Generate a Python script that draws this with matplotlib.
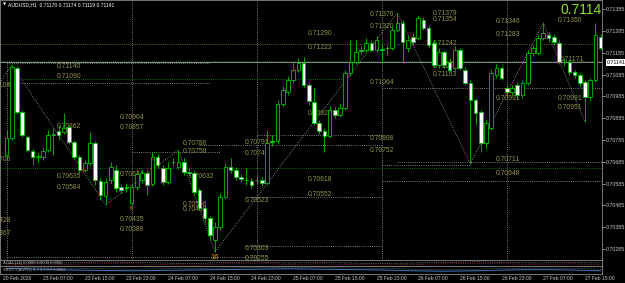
import matplotlib
matplotlib.use("Agg")
import matplotlib.pyplot as plt
import matplotlib.transforms as mtransforms
import numpy as np

plt.rcParams['font.family'] = ['Liberation Sans', 'DejaVu Sans']

# AUDUSD H1, bar 0 = 23 Feb 00:00
opens = [0.70717, 0.70794, 0.71115, 0.70913, 0.70799, 0.70735, 0.70707, 0.70707, 0.70739, 0.70808,
         0.70826, 0.70822, 0.70845, 0.70776, 0.70707, 0.70647, 0.70680, 0.70771, 0.70597, 0.70528,
         0.70601, 0.70647, 0.70569, 0.70569, 0.70496, 0.70569, 0.70601, 0.70634, 0.70583, 0.70707,
         0.70657, 0.70592, 0.70684, 0.70661, 0.70684, 0.70638, 0.70634, 0.70556, 0.70473, 0.70427,
         0.70326, 0.70386, 0.70524, 0.70661, 0.70647, 0.70615, 0.70601, 0.70597, 0.70601, 0.70601,
         0.70588, 0.70780, 0.70780, 0.70950, 0.71005, 0.71060, 0.71106, 0.71138, 0.71037, 0.70959,
         0.70863, 0.70826, 0.70803, 0.70922, 0.70900, 0.70932, 0.71092, 0.71143, 0.71198, 0.71198,
         0.71230, 0.71198, 0.71202, 0.71207, 0.71207, 0.71290, 0.71322, 0.71207, 0.71257, 0.71253,
         0.71335, 0.71299, 0.71230, 0.71129, 0.71189, 0.71143, 0.71115, 0.71198, 0.71106, 0.71046,
         0.70968, 0.70913, 0.70771, 0.70840, 0.71083, 0.71115, 0.71024, 0.71005, 0.71037, 0.70991,
         0.71046, 0.71184, 0.71184, 0.71253, 0.71267, 0.71257, 0.71230, 0.71143, 0.71143, 0.71097,
         0.71083, 0.71051, 0.70982, 0.71060, 0.71257]
highs = [0.70831, 0.71129, 0.71124, 0.70922, 0.70808, 0.70744, 0.70730, 0.70748, 0.70831, 0.70840,
         0.70854, 0.70909, 0.70854, 0.70785, 0.70717, 0.70693, 0.70822, 0.70780, 0.70611, 0.70611,
         0.70684, 0.70670, 0.70583, 0.70588, 0.70583, 0.70647, 0.70652, 0.70647, 0.70730, 0.70721,
         0.70670, 0.70684, 0.70703, 0.70739, 0.70703, 0.70657, 0.70647, 0.70565, 0.70482, 0.70436,
         0.70409, 0.70542, 0.70680, 0.70703, 0.70661, 0.70629, 0.70657, 0.70611, 0.70620, 0.70615,
         0.70831, 0.70808, 0.70968, 0.71033, 0.71079, 0.71143, 0.71161, 0.71166, 0.71046, 0.71024,
         0.70877, 0.70840, 0.70941, 0.70936, 0.70950, 0.71106, 0.71244, 0.71244, 0.71216, 0.71253,
         0.71244, 0.71262, 0.71221, 0.71221, 0.71303, 0.71368, 0.71335, 0.71262, 0.71276, 0.71358,
         0.71349, 0.71313, 0.71244, 0.71207, 0.71198, 0.71161, 0.71216, 0.71207, 0.71120, 0.71060,
         0.70978, 0.70922, 0.70877, 0.71106, 0.71134, 0.71124, 0.71037, 0.71037, 0.71051, 0.71060,
         0.71198, 0.71221, 0.71267, 0.71322, 0.71280, 0.71271, 0.71244, 0.71161, 0.71152, 0.71106,
         0.71092, 0.71060, 0.71069, 0.71322, 0.71271]
lows = [0.70693, 0.70785, 0.70904, 0.70799, 0.70730, 0.70670, 0.70684, 0.70693, 0.70730, 0.70717,
        0.70785, 0.70813, 0.70767, 0.70698, 0.70634, 0.70638, 0.70670, 0.70578, 0.70510, 0.70487,
        0.70588, 0.70547, 0.70542, 0.70547, 0.70487, 0.70556, 0.70588, 0.70533, 0.70574, 0.70657,
        0.70578, 0.70583, 0.70666, 0.70652, 0.70624, 0.70620, 0.70533, 0.70464, 0.70409, 0.70326,
        0.70271, 0.70372, 0.70514, 0.70634, 0.70601, 0.70592, 0.70578, 0.70565, 0.70583, 0.70574,
        0.70578, 0.70758, 0.70767, 0.70936, 0.70991, 0.71046, 0.71097, 0.71028, 0.70946, 0.70854,
        0.70813, 0.70730, 0.70794, 0.70886, 0.70890, 0.70922, 0.71079, 0.71134, 0.71179, 0.71189,
        0.71189, 0.71189, 0.71143, 0.71175, 0.71198, 0.71280, 0.71143, 0.71189, 0.71221, 0.71244,
        0.71290, 0.71207, 0.71120, 0.71115, 0.71115, 0.71097, 0.71102, 0.71106, 0.71037, 0.70675,
        0.70854, 0.70730, 0.70748, 0.70831, 0.71069, 0.71060, 0.70991, 0.70991, 0.70978, 0.70978,
        0.71037, 0.71170, 0.71175, 0.71244, 0.71235, 0.71221, 0.71134, 0.71124, 0.71083, 0.71069,
        0.71033, 0.70868, 0.70968, 0.71051, 0.71198]
closes = [0.70794, 0.71120, 0.70913, 0.70808, 0.70739, 0.70707, 0.70712, 0.70735, 0.70808, 0.70813,
          0.70808, 0.70840, 0.70776, 0.70707, 0.70647, 0.70680, 0.70771, 0.70601, 0.70533, 0.70592,
          0.70661, 0.70565, 0.70556, 0.70565, 0.70569, 0.70629, 0.70634, 0.70578, 0.70707, 0.70670,
          0.70592, 0.70657, 0.70682, 0.70684, 0.70638, 0.70634, 0.70547, 0.70473, 0.70427, 0.70349,
          0.70386, 0.70524, 0.70661, 0.70647, 0.70615, 0.70606, 0.70599, 0.70578, 0.70599, 0.70588,
          0.70771, 0.70776, 0.70950, 0.71014, 0.71060, 0.71106, 0.71138, 0.71037, 0.70964, 0.70863,
          0.70826, 0.70803, 0.70922, 0.70900, 0.70932, 0.71092, 0.71143, 0.71189, 0.71193, 0.71230,
          0.71198, 0.71244, 0.71198, 0.71205, 0.71290, 0.71322, 0.71235, 0.71244, 0.71235, 0.71345,
          0.71299, 0.71221, 0.71129, 0.71189, 0.71129, 0.71106, 0.71198, 0.71115, 0.71046, 0.70968,
          0.70909, 0.70771, 0.70863, 0.71092, 0.71115, 0.71069, 0.71005, 0.71024, 0.70991, 0.71046,
          0.71184, 0.71207, 0.71253, 0.71276, 0.71253, 0.71235, 0.71143, 0.71141, 0.71097, 0.71083,
          0.71046, 0.70982, 0.71060, 0.71267, 0.71207]

bid = 0.71141
header = "AUDUSD,H1  0.71170 0.71174 0.71119 0.71141"

# zigzag swing points (bar index); first point lies off the left edge
zz_bars = [-4, 1, 19, 33, 40, 75, 89, 103, 111]
zz_start = 0.70945

day_breaks = [0, 24, 48, 72, 96]
time_labels = ["20 Feb 2026", "23 Feb 07:00", "23 Feb 15:00", "23 Feb 23:00", "24 Feb 07:00",
               "24 Feb 15:00", "24 Feb 23:00", "25 Feb 07:00", "25 Feb 15:00", "25 Feb 23:00",
               "26 Feb 07:00", "26 Feb 15:00", "26 Feb 23:00", "27 Feb 07:00", "27 Feb 15:00"]
time_label_bars = [-0.7, 7, 15, 23, 31, 39, 47, 55, 63, 71, 79, 87, 95, 103, 111]

# horizontal levels: price, first bar, last bar
level_prices = [0.71140, 0.71064, 0.71046, 0.71024, 0.70808, 0.70760, 0.70730,
                0.70685, 0.70671, 0.70597, 0.70523, 0.70300, 0.70250]
level_from = [0, 3, 0, 72, 48, 37, 24, 75, 72, 72, 46, 46, 0]
level_to = [39, 65, 39, 115, 72, 72, 41, 115, 89, 115, 72, 72, 48]
level_green = [False, True, False, False, False, False, False,
               False, False, False, False, False, False]
pivot_line = 0.71223
green_lines = [0.71149, 0.70657]

# price labels: value, bar of left edge
label_prices = [0.71140, 0.71090, 0.70862, 0.70635, 0.70584,
                0.70904, 0.70857, 0.70641, 0.70435, 0.70389,
                0.70786, 0.70750, 0.70632, 0.70506, 0.70480,
                0.70791, 0.70740, 0.70523, 0.70303, 0.70255,
                0.71290, 0.71223, 0.70922, 0.70618, 0.70552,
                0.71376, 0.71320, 0.71064, 0.70808, 0.70752,
                0.71379, 0.71354, 0.71242, 0.71138, 0.71103,
                0.71346, 0.71283, 0.70991, 0.70711, 0.70648,
                0.71350, 0.71171, 0.70991, 0.70951]
label_bars = [9.7] * 5 + [21.8] * 5 + [33.9, 33.9, 35.2, 33.9, 33.9] + [45.8] * 5 + \
             [57.8] * 5 + [69.7] * 5 + [81.8] * 5 + [93.9] * 5 + [105.8, 106.2, 105.8, 105.8]
cut_texts = ["0.71104", "0.70706", "0.70428", "0.70367"]
cut_prices = [0.71051, 0.70712, 0.70432, 0.70372]

# indicator sub-windows
ind1_vals = [0.4, 0.6, 0.5, 0.7, 0.6, 0.5, 0.4, 0.6, 0.7, 0.5, 0.6, 0.5, 0.4, 0.5, 0.6, 0.7, 0.6, 0.5, 0.6, 0.5]
ind2_vals = [0.7, 0.6, 0.5, 0.45, 0.4, 0.45, 0.5, 0.55, 0.6, 0.65, 0.6, 0.55, 0.5, 0.4, 0.35, 0.4, 0.5, 0.55, 0.5, 0.4]

GREEN = '#00c000'
GRID = '#a0a0a0'
OLIVE = '#93934a'
TXT = '#c8c8c8'
W, H = 625, 283

fig = plt.figure(figsize=(W / 100, H / 100), dpi=100, facecolor='black')
ax = fig.add_axes([0, 1 - 260 / H, 602 / W, 260 / H], facecolor='black')
ax1 = fig.add_axes([0, 1 - 266 / H, 602 / W, 6 / H], facecolor='black')
ax2 = fig.add_axes([0, 1 - 274 / H, 602 / W, 8 / H], facecolor='black')

xmin, xmax = -1.25, 114.26
ax.set_xlim(xmin, xmax)
ax.set_ylim(0.70234, 0.71427)

o = np.array(opens); h = np.array(highs); l = np.array(lows); c = np.array(closes)
x = np.arange(len(o))
up = c >= o
ax.vlines(x, l, h, color=GREEN, lw=0.6, zorder=4)
lo = np.minimum(o, c)
ht = np.maximum(np.abs(c - o), 0.000012)
ax.bar(x[up], ht[up], bottom=lo[up], width=0.7, color='black', edgecolor=GREEN, lw=0.6, zorder=5)
ax.bar(x[~up], ht[~up], bottom=lo[~up], width=0.7, color='white', edgecolor=GREEN, lw=0.6, zorder=5)

dot = (0, (1, 1.6))
for b in day_breaks:
    top = bid if b == 0 else 0.71427
    ax.vlines(b, 0.70234, top, color=GRID, lw=0.6, linestyles=dot, zorder=1)

for p, a, b, g in zip(level_prices, level_from, level_to, level_green):
    ax.hlines(p, a, b, color='#1f8f1f' if g else GRID, lw=0.6, linestyles=dot, zorder=2)
ax.axhline(pivot_line, color='#7d7d30', lw=0.6, ls=dot, zorder=2)
for p in green_lines:
    ax.axhline(p, color='#1f8f1f', lw=0.6, ls=dot, zorder=2)
ax.axhline(bid, color='#a0a0a0', lw=0.6, zorder=2)

zz_prices = [zz_start]
for k, b in enumerate(zz_bars[1:]):
    zz_prices.append(highs[b] if k % 2 == 0 else lows[b])
ax.plot(zz_bars, zz_prices, color=GRID, lw=0.6, ls=dot, zorder=3)

for p, b in zip(label_prices, label_bars):
    ax.text(b, p, f"{p:.5f}", color=OLIVE, fontsize=4.9, ha='left', va='top', zorder=3, clip_on=True)
for t, p in zip(cut_texts, cut_prices):
    ax.text(-3.7, p, t, color=OLIVE, fontsize=4.9, ha='left', va='top', zorder=3, clip_on=True)

ax.text(40, lows[40] - 0.00008, "16", color='#e0a020', fontsize=5.5, ha='center', va='top', zorder=6)
ax.text(24, lows[24] - 0.00018, "6", color='#e0a020', fontsize=3.5, ha='center', va='center', zorder=6)

ax.yaxis.tick_right()
ticks = np.round(np.arange(0.70285, 0.71386, 0.001), 5)
ax.set_yticks(ticks)
ax.set_yticklabels([f"{t:.5f}" for t in ticks])
ax.tick_params(axis='y', colors=TXT, labelsize=3.8, length=2, width=0.5, pad=1)
ax.set_xticks([])

for a in (ax, ax1, ax2):
    a.set_xlim(xmin, xmax)
    for s in a.spines.values():
        s.set_color('#8a8a8a')
        s.set_linewidth(0.6)

# bid box on the price scale
tr = mtransforms.blended_transform_factory(ax.transAxes, ax.transData)
ax.text(1.008, bid, f"{bid:.5f}", transform=tr, fontsize=3.8, color='black', ha='left', va='center',
        bbox=dict(facecolor='white', edgecolor='none', pad=0.6), clip_on=False)

# indicator windows
xi = np.linspace(0, 114, len(ind1_vals))
ax1.set_ylim(0, 1)
ax1.plot(xi, ind1_vals, color='#b0b0b0', lw=0.5, ls=dot)
ax1.plot(xi, np.array(ind1_vals) - 0.25, color='#d03030', lw=0.5, ls=dot)
ax1.set_xticks([]); ax1.set_yticks([])
ax2.set_ylim(0, 1)
ax2.plot(xi, ind2_vals, color='#3a78c8', lw=0.7)
ax2.plot(xi, np.array(ind2_vals) + 0.2, color='#b0b0b0', lw=0.4, ls=dot)
ax2.set_xticks([]); ax2.set_yticks([])
ax1.text(0.005, 0.55, "AOAC(14) 0.0000 0.0000 0.0000", transform=ax1.transAxes, fontsize=3,
         color='#b0b0b0', va='center', ha='left')
ax2.text(0.005, 0.5, "SBDCT(AUTO) 0.7 0.7 0.7 1.0562", transform=ax2.transAxes, fontsize=3,
         color='#b0b0b0', va='center', ha='left')

# time scale
trx = mtransforms.blended_transform_factory(ax.transData, fig.transFigure)
for t, b in zip(time_labels, time_label_bars):
    fig.text(b, 1 - 278 / H, t, transform=trx, fontsize=3.6, color=TXT, ha='left', va='center')

# header and big price
fig.text(3 / W, 1 - 4.5 / H, "\u25bc", fontsize=2.8, color='white', ha='left', va='center',
         family='DejaVu Sans')
fig.text(8 / W, 1 - 4.5 / H, header, fontsize=3.6, color='white', ha='left', va='center')
fig.text(602 / W, 1 - 10 / H, f"{bid:.4f}", fontsize=10, color='#8fe01f', ha='right', va='center')

fig.savefig('out.png', dpi=100, facecolor='black')
